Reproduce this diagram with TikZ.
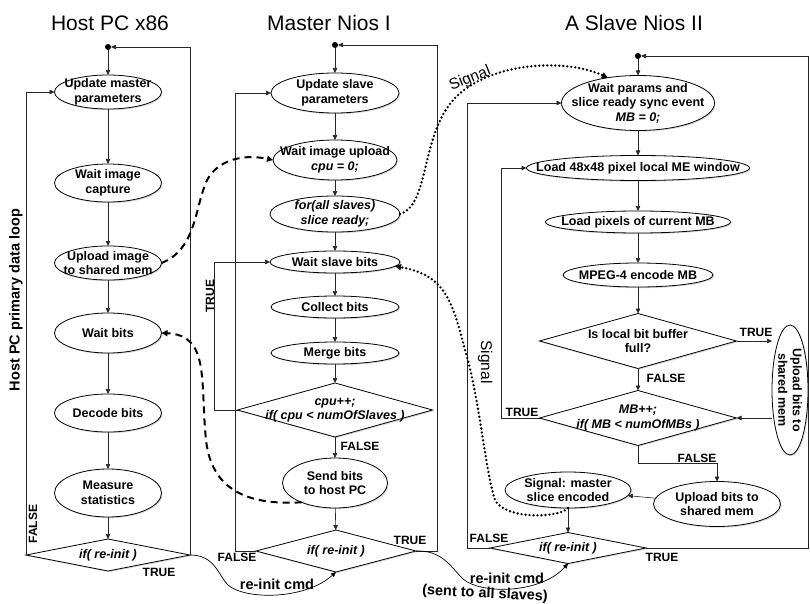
\documentclass[tikz,border=0pt]{standalone}
\usepackage{fontspec}
\setmainfont{Liberation Sans}
\usepackage{tikz}
\usetikzlibrary{arrows.meta}
\usetikzlibrary{shapes.geometric}
\usetikzlibrary{shadows}
\newcommand\flowfont{\fontsize{12.5}{14.5}\selectfont\bfseries}
\newcommand\flowcode[1]{{\itshape #1}}
\tikzset{
  flowellipse/.style args={#1,#2}{shape=ellipse,draw,line width=0.8pt,fill=white,minimum width=#1,minimum height=#2,inner xsep=-30pt,inner ysep=-10pt,align=center,font=\flowfont,drop shadow={shadow xshift=1.2pt,shadow yshift=-1.2pt,opacity=0.3}},
  flowdiamond/.style args={#1,#2}{shape=diamond,draw,line width=0.8pt,fill=white,minimum width=#1,minimum height=#2,inner xsep=-60pt,inner ysep=-12pt,align=center,font=\flowfont,drop shadow={shadow xshift=1.2pt,shadow yshift=-1.2pt,opacity=0.3}},
  flowjoin/.style={shape=circle,fill=black,inner sep=0pt,minimum size=6pt},
  flowtitle/.style={font=\fontsize{21}{24}\selectfont},
  flowtag/.style={font=\fontsize{12}{14}\selectfont\bfseries},
  cmdtag/.style={font=\fontsize{14.5}{16}\selectfont\bfseries},
  signaltag/.style={font=\fontsize{15.5}{17}\selectfont},
  flowarrow/.style={draw=black!85,line width=0.6pt,-{Triangle[length=5pt,width=4.5pt]}},
  signalline/.style={line width=2.6pt,dash pattern=on 0pt off 4pt,line cap=round,-{Triangle[length=6pt,width=6pt]}},
  dataline/.style={line width=2pt,dash pattern=on 7pt off 5pt,-{Triangle[length=6pt,width=6pt]}},
  cmdline/.style={line width=0.7pt,-{Triangle[length=5pt,width=4.5pt]}}
}

\begin{document}
\begin{tikzpicture}[x=1pt, y=-1pt, every node/.style={outer sep=0pt}]
\useasboundingbox (0,0) rectangle (810,604);
\node[flowtitle] (hosttitle) at (110,23) {Host PC x86};
\node[flowtitle] (mastertitle) at (329,23) {Master Nios I};
\node[flowtitle] (slavetitle) at (634,23) {A Slave Nios II};

\node[flowjoin] (hostjoin) at (108,47) {};
\node[flowellipse={107pt,34pt}] (updmaster) at (108,92) {Update master\\parameters};
\node[flowellipse={107pt,38pt}] (waitcapture) at (108,183) {Wait image\\capture};
\node[flowellipse={107pt,34pt}] (uploadimage) at (108,263) {Upload image\\to shared mem};
\node[flowellipse={107pt,40pt}] (waitbits) at (108,333) {Wait bits};
\node[flowellipse={107pt,38pt}] (decodebits) at (108,413) {Decode bits};
\node[flowellipse={107pt,48pt}] (measure) at (108,493) {Measure\\statistics};
\node[flowdiamond={164pt,32pt}] (hostreinit) at (108,555) {\flowcode{if( re-init )}};
\node[cmdtag, rotate=90] (hostloop) at (16,300) {Host PC primary data loop};

\node[flowjoin] (masterjoin) at (335,45) {};
\node[flowellipse={128pt,40pt}] (updslave) at (335,93) {Update slave\\parameters};
\node[flowellipse={124pt,40pt}] (waitupload) at (335,160) {Wait image upload\\\flowcode{cpu = 0;}};
\node[flowellipse={130pt,36pt}] (sliceready) at (335,214) {\flowcode{for(all slaves)}\\\flowcode{slice ready;}};
\node[flowellipse={130pt,22pt}] (waitslave) at (335,262) {Wait slave bits};
\node[flowellipse={128pt,22pt}] (collectbits) at (335,307) {Collect bits};
\node[flowellipse={128pt,22pt}] (mergebits) at (335,353) {Merge bits};
\node[flowdiamond={195pt,54pt}] (cpuloop) at (335,410) {\flowcode{cpu++;}\\\flowcode{if( cpu < numOfSlaves )}};
\node[flowellipse={105pt,50pt}] (sendbits) at (335,483) {Send bits\\to host PC};
\node[flowdiamond={160pt,42pt}] (masterreinit) at (336,551) {\flowcode{if( re-init )}};

\node[flowjoin] (slavejoin) at (638,56) {};
\node[flowellipse={153pt,55pt}] (waitparams) at (638,103) {Wait params and\\slice ready sync event\\\flowcode{MB = 0;}};
\node[flowellipse={223pt,25pt}] (loadwindow) at (638,168) {Load 48x48 pixel local ME window};
\node[flowellipse={185pt,22pt}] (loadpixels) at (638,222) {Load pixels of current MB};
\node[flowellipse={150pt,24pt}] (encodemb) at (638,275) {MPEG-4 encode MB};
\node[flowdiamond={197pt,55pt}] (bufferfull) at (638,341) {Is local bit buffer\\full?};
\node[flowdiamond={197pt,55pt}] (mbloop) at (638,418) {\flowcode{MB++;}\\\flowcode{if( MB < numOfMBs )}};
\node[flowellipse={130pt,36pt}, rotate=-90] (uploadside) at (790,390) {Upload bits to\\shared mem};
\node[flowellipse={127pt,45pt}] (uploadbits) at (717,504) {Upload bits to\\shared mem};
\node[flowellipse={126pt,36pt}] (signalmaster) at (568,490) {Signal: master\\slice encoded};
\node[flowdiamond={156pt,31pt}] (slavereinit) at (568,548) {\flowcode{if( re-init )}};

\draw[flowarrow] (hostjoin) -- (updmaster);
\draw[flowarrow] (updmaster) -- (waitcapture);
\draw[flowarrow] (waitcapture) -- (uploadimage);
\draw[flowarrow] (uploadimage) -- (waitbits);
\draw[flowarrow] (waitbits) -- (decodebits);
\draw[flowarrow] (decodebits) -- (measure);
\draw[flowarrow] (measure) -- (hostreinit);
\draw[flowarrow] (hostreinit.west) |- (updmaster.west);
\draw[flowarrow] (hostreinit.east) |- (hostjoin);

\draw[flowarrow] (masterjoin) -- (updslave);
\draw[flowarrow] (updslave) -- (waitupload);
\draw[flowarrow] (waitupload) -- (sliceready);
\draw[flowarrow] (sliceready) -- (waitslave);
\draw[flowarrow] (waitslave) -- (collectbits);
\draw[flowarrow] (collectbits) -- (mergebits);
\draw[flowarrow] (mergebits) -- (cpuloop);
\draw[flowarrow] (cpuloop.west) -- ++(-23,0) |- (waitslave.west);
\draw[flowarrow] (cpuloop) -- (sendbits);
\draw[flowarrow] (sendbits) -- (masterreinit);
\draw[flowarrow] (masterreinit.west) -- ++(-21,0) |- (updslave.west);
\draw[flowarrow] (masterreinit.east) -- ++(21,0) |- (masterjoin);

\draw[flowarrow] (slavejoin) -- (waitparams);
\draw[flowarrow] (waitparams) -- (loadwindow);
\draw[flowarrow] (loadwindow) -- (loadpixels);
\draw[flowarrow] (loadpixels) -- (encodemb);
\draw[flowarrow] (encodemb) -- (bufferfull);
\draw[flowarrow] (bufferfull) -- (mbloop);
\draw[flowarrow] (bufferfull.east) -- (bufferfull.east -| uploadside.south);
\draw[flowarrow] (mbloop.east -| uploadside.south) -- (mbloop.east);
\draw[flowarrow] (mbloop.west) -- ++(-38,0) |- (loadwindow.west);
\draw[flowarrow] (mbloop.south) -- ++(0,18) -| (uploadbits.north);
\draw[flowarrow] (uploadbits) -- (signalmaster);
\draw[flowarrow] (signalmaster) -- (slavereinit);
\draw[flowarrow] (slavereinit.west) -- ++(-23,0) |- (waitparams.west);
\draw[flowarrow] (slavereinit.east) -- ++(162,0) |- (slavejoin);

\node[flowtag, rotate=90] (hostfalse) at (33,524) {FALSE};
\node[flowtag] (hosttrue) at (159,572) {TRUE};
\node[flowtag, rotate=90] (cputrue) at (210,296) {TRUE};
\node[flowtag] (cpufalse) at (360,446) {FALSE};
\node[flowtag] (masterfalse) at (237,557) {FALSE};
\node[flowtag] (mastertrue) at (410,540) {TRUE};
\node[flowtag] (buffertrue) at (756,332) {TRUE};
\node[flowtag] (bufferfalse) at (666,378) {FALSE};
\node[flowtag] (mbtrue) at (522,412) {TRUE};
\node[flowtag] (mbfalse) at (697,458) {FALSE};
\node[flowtag] (slavefalse) at (489,538) {FALSE};
\node[flowtag] (slavetrue) at (662,557) {TRUE};

\draw[dataline] (uploadimage.east) .. controls (195,250) and (195,210) .. (205,185) .. controls (213,162) and (240,153) .. (waitupload.west);
\draw[dataline] (sendbits.210) .. controls (255,505) and (212,495) .. (206,440) .. controls (200,380) and (210,335) .. (waitbits.east);
\draw[signalline] (sliceready.east) .. controls (430,205) and (420,135) .. (455,98) .. controls (490,62) and (565,58) .. (waitparams.140);
\draw[signalline] (signalmaster.south) .. controls (560,518) and (505,520) .. (495,500) .. controls (485,470) and (480,400) .. (465,350) .. controls (452,300) and (445,275) .. (waitslave.-4);
\node[signaltag, rotate=22] (signalup) at (470,79) {Signal};
\node[signaltag, rotate=-90] (signaldown) at (485,362) {Signal};

\draw[cmdline] (hostreinit.east) .. controls (215,555) and (218,575) .. (228,585) .. controls (245,600) and (305,600) .. (masterreinit.south);
\draw[cmdline] (masterreinit.east) .. controls (440,550) and (450,565) .. (460,576) .. controls (475,595) and (540,595) .. (slavereinit.south);
\node[cmdtag] (hostcmd) at (277,584) {re-init cmd};
\node[cmdtag] (mastercmd) at (507,578) {re-init cmd};
\node[cmdtag, rotate=-3] (mastercmdnote) at (485,594) {(sent to all slaves)};
\end{tikzpicture}
\end{document}
